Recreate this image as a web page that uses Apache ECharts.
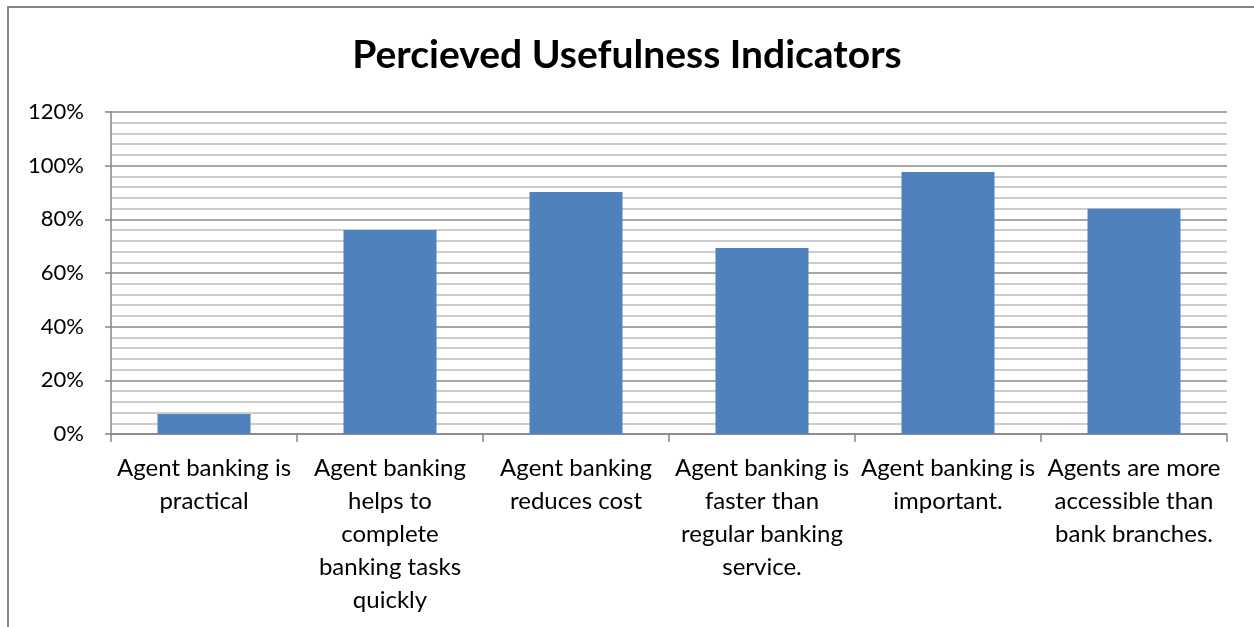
<!DOCTYPE html>
<html>
<head>
<meta charset="utf-8">
<script src="https://cdn.jsdelivr.net/npm/echarts@6/dist/echarts.min.js"></script>
<style>
  html, body { margin: 0; padding: 0; background: #fff; }
  #chart { width: 1254px; height: 627px; }
</style>
</head>
<body>
<div id="chart"></div>
<script>
// Survey indicators (x-axis labels, wrapped as shown under each bar)
const categories = [
  'Agent banking is\npractical',
  'Agent banking\nhelps to\ncomplete\nbanking tasks\nquickly',
  'Agent banking\nreduces cost',
  'Agent banking is\nfaster than\nregular banking\nservice.',
  'Agent banking is\nimportant.',
  'Agents are more\naccessible than\nbank branches.'
];
// Share of respondents agreeing, in percent
const values = [7.5, 76, 90.2, 69.3, 97.6, 83.9];
// Value axis range and step (percent)
const yMin = 0;
const yMax = 120;
const yStep = 20;

const FONT = 'Lato, "Open Sans", sans-serif';
const chart = echarts.init(document.getElementById('chart'));

chart.setOption({
  backgroundColor: '#ffffff',
  animation: false,
  title: {
    text: 'Percieved Usefulness Indicators',
    left: 'center',
    top: 31,
    textStyle: { fontFamily: FONT, fontSize: 39, fontWeight: 'bold', color: '#000' }
  },
  graphic: [{
    type: 'rect',
    shape: { x: 8, y: 7, width: 1270, height: 640 },
    style: { fill: 'none', stroke: '#868686', lineWidth: 2 },
    z: -1
  }],
  grid: { left: 111, right: 27, top: 112, bottom: 193 },
  xAxis: {
    type: 'category',
    data: categories,
    axisLine: { lineStyle: { color: '#868686', width: 1.5 } },
    axisTick: { show: true, length: 8, alignWithLabel: false, lineStyle: { color: '#868686', width: 1.5 } },
    axisLabel: {
      interval: 0,
      margin: 18,
      fontFamily: FONT,
      fontSize: 24,
      lineHeight: 33,
      color: '#000',
      align: 'center'
    }
  },
  yAxis: {
    type: 'value',
    min: yMin,
    max: yMax,
    interval: yStep,
    axisLine: { show: true, lineStyle: { color: '#868686', width: 1.5 } },
    axisTick: { show: true, length: 6, lineStyle: { color: '#868686', width: 1.5 } },
    axisLabel: {
      margin: 27,
      fontFamily: FONT,
      fontSize: 22,
      color: '#000',
      formatter: v => v + '%'
    },
    splitLine: { show: true, lineStyle: { color: '#8a8a8a', width: 1.5 } },
    minorTick: { show: false, splitNumber: 5 },
    minorSplitLine: { show: true, lineStyle: { color: '#bdbdbd', width: 1.5 } }
  },
  series: [{
    type: 'bar',
    data: values,
    barWidth: '50%',
    itemStyle: { color: '#4f81bd' }
  }]
});
</script>
</body>
</html>
